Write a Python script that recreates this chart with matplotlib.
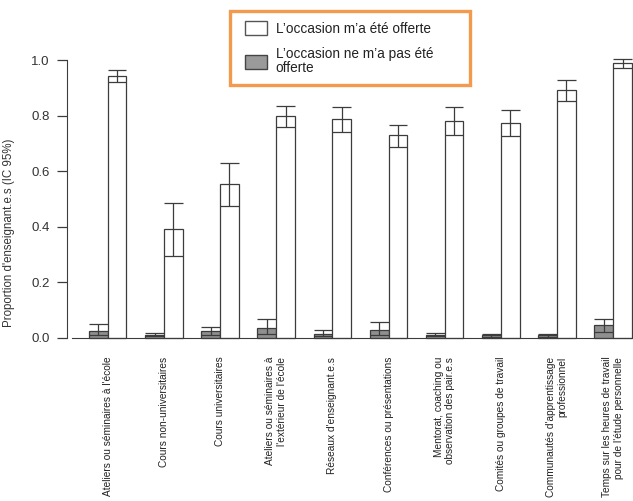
import numpy as np
import matplotlib
matplotlib.use("Agg")
import matplotlib.pyplot as plt
from matplotlib.patches import Patch, Rectangle

plt.rcParams["font.family"] = ["Liberation Sans", "DejaVu Sans"]

# ---------------------------------------------------------------------------
# Data (proportions with 95% CI)
# ---------------------------------------------------------------------------
categories = [
    "Ateliers ou séminaires à l'école",
    "Cours non-universitaires",
    "Cours universitaires",
    "Ateliers ou séminaires à\nl'extérieur de l'école",
    "Réseaux d'enseignant.e.s",
    "Conférences ou présentations",
    "Mentorat, coaching ou\nobservation des pair.e.s",
    "Comités ou groupes de travail",
    "Communautés d'apprentissage\nprofessionnel",
    "Temps sur les heures de travail\npour de l'étude personnelle",
]

offered = [0.942, 0.391, 0.554, 0.799, 0.787, 0.729, 0.779, 0.773, 0.891, 0.988]
offered_lo = [0.920, 0.295, 0.476, 0.760, 0.742, 0.688, 0.729, 0.727, 0.854, 0.970]
offered_hi = [0.963, 0.484, 0.629, 0.833, 0.830, 0.767, 0.830, 0.820, 0.927, 1.004]

not_offered = [0.025, 0.012, 0.025, 0.037, 0.015, 0.029, 0.012, 0.009, 0.010, 0.047]
not_offered_lo = [0.010, 0.006, 0.012, 0.013, 0.006, 0.010, 0.006, 0.004, 0.005, 0.023]
not_offered_hi = [0.050, 0.018, 0.041, 0.068, 0.027, 0.059, 0.018, 0.015, 0.016, 0.067]

legend_labels = ["L\u2019occasion m\u2019a été offerte",
                 "L\u2019occasion ne m\u2019a pas été\nofferte"]

GREY_FILL = "#8f8f8f"
EDGE = "#3c3c3c"
ORANGE = "#f39a4e"

# ---------------------------------------------------------------------------
# Figure
# ---------------------------------------------------------------------------
W, H = 633, 501
fig = plt.figure(figsize=(W / 100, H / 100), dpi=100)
ax = fig.add_axes([67.3 / W, (H - 349.1) / H, (W - 67.3) / W, 300.2 / H])

n = len(categories)
x_dark = 1 + 3 * np.arange(n)
x_white = 2 + 3 * np.arange(n)
width = 1.0


def draw_series(x, vals, lo, hi, color):
    ax.bar(x, vals, width, align="edge", color=color, edgecolor=EDGE,
           linewidth=0.9, zorder=2)
    xc = x + width / 2
    ax.vlines(xc, lo, hi, color=EDGE, linewidth=0.9, zorder=3)
    ax.hlines(lo, x, x + width, color=EDGE, linewidth=0.9, zorder=3)
    ax.hlines(hi, x, x + width, color=EDGE, linewidth=0.9, zorder=3)


draw_series(x_dark, not_offered, not_offered_lo, not_offered_hi, GREY_FILL)
draw_series(x_white, offered, offered_lo, offered_hi, "white")

ax.set_xlim(-0.16, 30.06)
ax.set_ylim(-0.04, 1.04)

# R-like axes
for s in ["top", "right"]:
    ax.spines[s].set_visible(False)
ax.spines["left"].set_bounds(0, 1)
ax.spines["left"].set_color(EDGE)
ax.spines["bottom"].set_position(("data", 0))
ax.spines["bottom"].set_bounds(0.1, 30)
ax.spines["bottom"].set_color(EDGE)

ax.set_yticks([0, 0.2, 0.4, 0.6, 0.8, 1.0])
ax.set_yticklabels(["0.0", "0.2", "0.4", "0.6", "0.8", "1.0"])
ax.tick_params(axis="y", length=7, width=0.9, color=EDGE, pad=5.5,
               labelsize=9.5, labelcolor="#333333")

ax.set_xticks(x_dark + width)
ax.set_xticklabels(categories, rotation=90, fontsize=7.3, color="#222222",
                   va="top", ha="center")
for lab in ax.get_xticklabels():
    lab.set_multialignment("right")
ax.tick_params(axis="x", length=0, pad=13.5)

ax.set_ylabel("Proportion d'enseignant.e.s (IC 95%)", fontsize=8.3,
              color="#333333")
ax.yaxis.set_label_coords(-0.093, 0.387)

# legend: orange frame drawn separately so it can be as wide as the original
fig.patches.append(Rectangle((230 / W, 1 - 85 / H), 240 / W, 74 / H,
                             transform=fig.transFigure, facecolor="white",
                             edgecolor=ORANGE, linewidth=2.4, zorder=5))
handles = [Patch(facecolor="white", edgecolor="#555555", linewidth=1.0),
           Patch(facecolor="#9a9a9a", edgecolor="#444444", linewidth=1.0)]
leg = fig.legend(handles, legend_labels, loc="upper left",
                 bbox_to_anchor=(245 / W, 1 - 21 / H), frameon=False,
                 fontsize=9.8, handlelength=1.6, handleheight=1.2,
                 labelspacing=0.85, borderpad=0, handletextpad=0.65,
                 borderaxespad=0)
leg.set_zorder(6)
for t in leg.get_texts():
    t.set_linespacing(1.0)
    t.set_color("#222222")

fig.savefig("out.png", dpi=100)
